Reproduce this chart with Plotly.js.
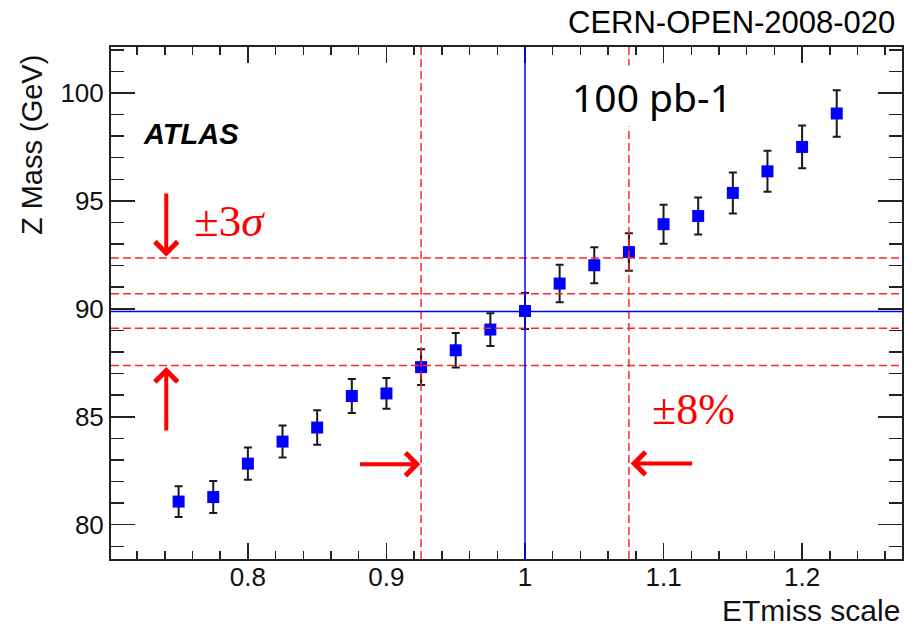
<!DOCTYPE html>
<html>
<head>
<meta charset="utf-8">
<script src="https://cdn.plot.ly/plotly-3.0.1.min.js"></script>
<style>
html,body{margin:0;padding:0;background:#fff;}
#chart{width:917px;height:628px;}
</style>
</head>
<body>
<div id="chart"></div>
<script>
// ETmiss scale factors (x) and fitted Z mass (GeV) with uncertainties
const etmissScale = [0.75, 0.775, 0.8, 0.825, 0.85, 0.875, 0.9, 0.925, 0.95, 0.975,
                     1.0, 1.025, 1.05, 1.075, 1.1, 1.125, 1.15, 1.175, 1.2, 1.225];
const zMass = [81.07, 81.28, 82.83, 83.85, 84.50, 85.96, 86.08, 87.30, 88.08, 89.04,
               89.90, 91.17, 92.02, 92.63, 93.92, 94.30, 95.37, 96.37, 97.50, 99.05];
const zMassErr = [0.71, 0.74, 0.75, 0.74, 0.80, 0.79, 0.71, 0.83, 0.80, 0.76,
                  0.83, 0.87, 0.83, 0.87, 0.90, 0.86, 0.95, 0.95, 0.99, 1.08];

// reference lines
const nominalMass = 89.88;
const nominalScale = 1.0;
const sigmaBandMass = [92.35, 90.70, 89.10, 87.38];
const scaleBand = [0.925, 1.075];

// axis ranges / ticks
const xRange = [0.7012, 1.2721];
const yRange = [78.41, 102.13];

const trace = {
  x: etmissScale,
  y: zMass,
  type: 'scatter',
  mode: 'markers',
  marker: {symbol: 'square', size: 12, color: '#0000ff', line: {width: 0}},
  error_y: {type: 'data', array: zMassErr, visible: true, color: '#1a1a1a', thickness: 2, width: 4},
  hoverinfo: 'x+y'
};

const red = '#ff2626';
const shapes = [];
sigmaBandMass.forEach(v => shapes.push({type: 'line', xref: 'paper', yref: 'y', x0: 0, x1: 1, y0: v, y1: v,
             line: {color: red, width: 1.5, dash: '8px,4px'}, layer: 'above'}));
scaleBand.forEach(v => shapes.push({type: 'line', xref: 'x', yref: 'paper', x0: v, x1: v, y0: 0, y1: 1,
             line: {color: red, width: 1.5, dash: '8px,4px'}, layer: 'above'}));
shapes.push({type: 'line', xref: 'paper', yref: 'y', x0: 0, x1: 1, y0: nominalMass, y1: nominalMass,
             line: {color: '#0000ff', width: 1.5}, layer: 'above'});
shapes.push({type: 'line', xref: 'x', yref: 'paper', x0: nominalScale, x1: nominalScale, y0: 0, y1: 1,
             line: {color: '#0000ff', width: 1.5}, layer: 'above'});

function arrow(xTip, yTip, xTail, yTail) {
  return {x: xTip, y: yTip, ax: xTail, ay: yTail, xref: 'x', yref: 'y', axref: 'x', ayref: 'y',
          text: '', showarrow: true, arrowhead: 4, arrowwidth: 4, arrowsize: 1.1,
          arrowcolor: '#ff0000', standoff: 0, startstandoff: 0};
}

const annotations = [
  {text: 'CERN-OPEN-2008-020', xref: 'paper', yref: 'paper', x: 0.9937, y: 1.0488,
   xanchor: 'right', yanchor: 'middle', showarrow: false,
   font: {family: 'Liberation Sans, Arial, sans-serif', size: 31, color: '#000'}},
  {text: 'Z Mass (GeV)', xref: 'paper', yref: 'paper', x: -0.0999, y: 0.988,
   xanchor: 'center', yanchor: 'top', textangle: -90, showarrow: false,
   font: {family: 'Liberation Sans, Arial, sans-serif', size: 29, color: '#111'}},
  {text: 'ETmiss scale', xref: 'paper', yref: 'paper', x: 1.0, y: -0.1,
   xanchor: 'right', yanchor: 'middle', showarrow: false,
   font: {family: 'Liberation Sans, Arial, sans-serif', size: 30, color: '#111'}},
  {text: '<b><i>ATLAS</i></b>', xref: 'x', yref: 'y', x: 0.7225, y: 98.09,
   xanchor: 'left', yanchor: 'middle', showarrow: false,
   font: {family: 'Liberation Sans, Arial, sans-serif', size: 29, color: '#000'}},
  {text: '100 pb-1', xref: 'x', yref: 'y', x: 1.0914, y: 99.85,
   xanchor: 'center', yanchor: 'middle', showarrow: false,
   bgcolor: '#ffffff', width: 200, height: 60, borderpad: 0, valign: 'middle',
   font: {family: 'Noto Sans, Open Sans, sans-serif', size: 39, color: '#000'}},
  {text: '±3<i>σ</i>', xref: 'x', yref: 'y', x: 0.7596, y: 94.08,
   xanchor: 'left', yanchor: 'middle', showarrow: false,
   font: {family: 'Liberation Serif, Times New Roman, serif', size: 45, color: '#ff0000'}},
  {text: '±8%', xref: 'x', yref: 'y', x: 1.0903, y: 85.34,
   xanchor: 'left', yanchor: 'middle', showarrow: false,
   font: {family: 'Liberation Serif, Times New Roman, serif', size: 44, color: '#ff0000'}},
  arrow(0.7411, 92.42, 0.7411, 95.41),
  arrow(0.7411, 87.30, 0.7411, 84.29),
  arrow(0.9245, 82.80, 0.8798, 82.80),
  arrow(1.0762, 82.84, 1.1217, 82.84)
];

const axisCommon = {
  showgrid: false, zeroline: false, showline: true, linecolor: '#222', linewidth: 2,
  mirror: 'allticks', ticks: 'inside', tickcolor: '#222', tickwidth: 1.5,
  tickfont: {family: 'Liberation Sans, Arial, sans-serif', size: 26, color: '#111'}
};

const layout = {
  width: 917, height: 628,
  margin: {l: 111, r: 15, t: 47, b: 69},
  paper_bgcolor: '#ffffff', plot_bgcolor: '#ffffff',
  showlegend: false,
  xaxis: Object.assign({}, axisCommon, {
    range: xRange, tick0: 0, dtick: 0.1, ticklen: 16, ticklabelstandoff: -6,
    minor: {dtick: 0.02, ticklen: 8, tickwidth: 1.5, tickcolor: '#222', ticks: 'inside'}
  }),
  yaxis: Object.assign({}, axisCommon, {
    range: yRange, tick0: 0, dtick: 5, ticklen: 24,
    minor: {dtick: 1, ticklen: 13, tickwidth: 1.5, tickcolor: '#222', ticks: 'inside'}
  }),
  shapes: shapes,
  annotations: annotations
};

Plotly.newPlot('chart', [trace], layout, {displayModeBar: false, staticPlot: true});
</script>
</body>
</html>
